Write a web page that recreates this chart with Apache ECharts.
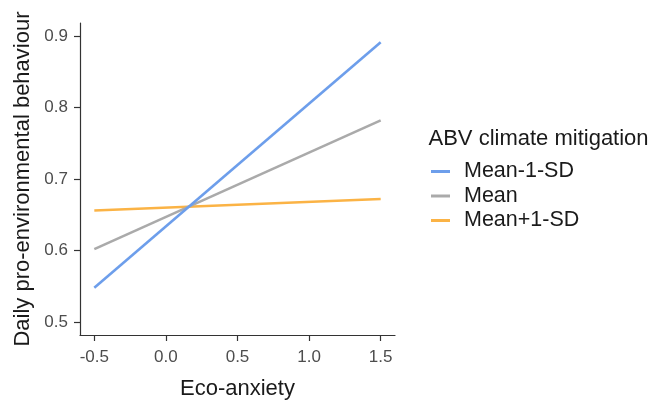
<!DOCTYPE html>
<html>
<head>
<meta charset="utf-8">
<script src="https://cdn.jsdelivr.net/npm/echarts@6/dist/echarts.min.js"></script>
<style>html,body{margin:0;padding:0;background:#fff}#c{width:653px;height:401px}</style>
</head>
<body>
<div id="c"></div>
<script>
const xEnds = [-0.5, 1.5];
const seriesNames = ['Mean-1-SD', 'Mean', 'Mean+1-SD'];
const lowValues = [0.548, 0.602, 0.656];
const highValues = [0.891, 0.782, 0.672];
const seriesColors = ['#6d9eeb', '#aaaaaa', '#fbb345'];
const xTicks = [-0.5, 0, 0.5, 1.0, 1.5];
const yTicks = [0.5, 0.6, 0.7, 0.8, 0.9];

const chart = echarts.init(document.getElementById('c'));
const FONT = 'Liberation Sans, Arial, sans-serif';
const series = seriesNames.map((n, i) => ({
  name: n,
  type: 'line',
  data: [[xEnds[0], lowValues[i]], [xEnds[1], highValues[i]]],
  showSymbol: false,
  symbol: 'none',
  lineStyle: { color: seriesColors[i], width: 2.6 },
  itemStyle: { color: seriesColors[i] },
  z: 3 - i
}));
chart.setOption({
  animation: false,
  backgroundColor: '#fff',
  title: {
    text: 'ABV climate mitigation',
    left: 428.5, top: 128,
    padding: 0,
    textStyle: { fontFamily: FONT, fontSize: 22, fontWeight: 'normal', color: '#1a1a1a' }
  },
  legend: {
    orient: 'vertical',
    left: 431, top: 160.5,
    padding: 0,
    itemWidth: 19, itemHeight: 3,
    itemGap: 2.5,
    icon: 'rect',
    data: seriesNames,
    textStyle: { fontFamily: FONT, fontSize: 21.5, color: '#1a1a1a', padding: [0, 0, 0, 9], lineHeight: 21 }
  },
  grid: { left: 80, right: 258, top: 23, bottom: 66, containLabel: false, outerBoundsMode: 'none' },
  xAxis: {
    type: 'value', min: -0.6, max: 1.6,
    name: 'Eco-anxiety', nameLocation: 'middle', nameGap: 43,
    nameTextStyle: { fontFamily: FONT, fontSize: 22, color: '#1a1a1a' },
    splitLine: { show: false },
    axisLine: { show: true, onZero: false, lineStyle: { color: '#333', width: 1.2 } },
    axisTick: { show: true, length: 6, customValues: xTicks, lineStyle: { color: '#333', width: 1.2 } },
    axisLabel: { customValues: xTicks, margin: 14, fontFamily: FONT, fontSize: 17, color: '#4d4d4d',
      formatter: v => v.toFixed(1) }
  },
  yAxis: {
    type: 'value', min: 0.482, max: 0.918,
    name: 'Daily pro-environmental behaviour', nameLocation: 'middle', nameGap: 46,
    nameTextStyle: { fontFamily: FONT, fontSize: 22, color: '#1a1a1a' },
    splitLine: { show: false },
    axisLine: { show: true, onZero: false, lineStyle: { color: '#333', width: 1.2 } },
    axisTick: { show: true, length: 6, customValues: yTicks, lineStyle: { color: '#333', width: 1.2 } },
    axisLabel: { customValues: yTicks, margin: 12, fontFamily: FONT, fontSize: 17, color: '#4d4d4d',
      formatter: v => v.toFixed(1) }
  },
  series: series
});
</script>
</body>
</html>
